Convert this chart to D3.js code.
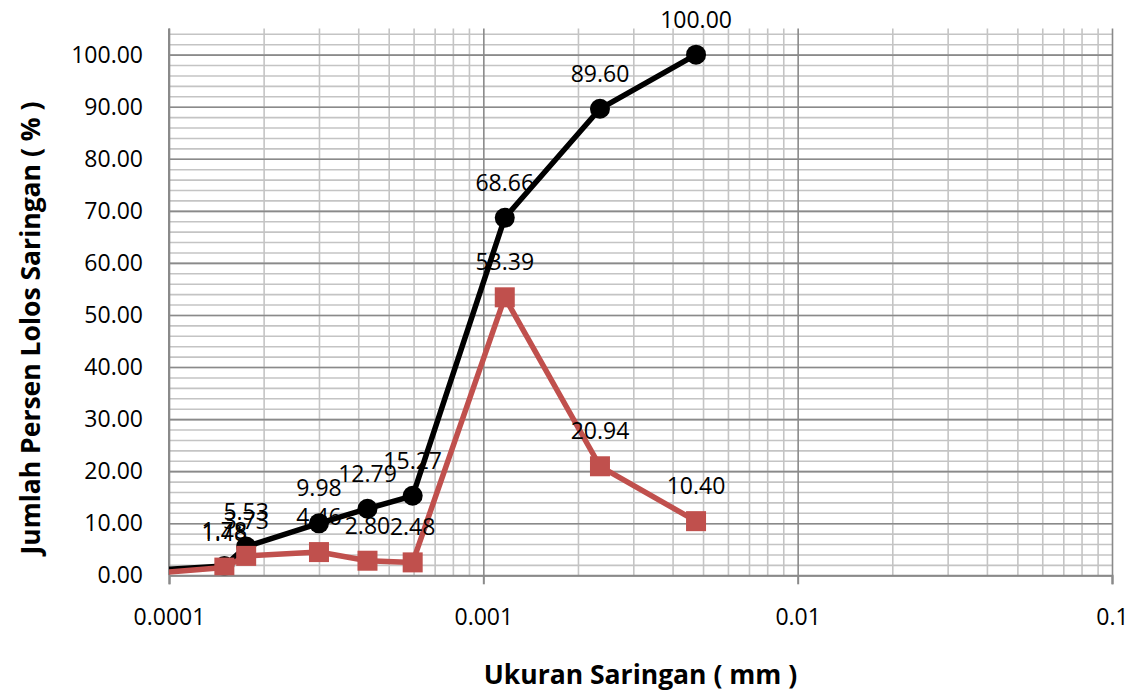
<!DOCTYPE html>
<html>
<head>
<meta charset="utf-8">
<script src="https://cdn.jsdelivr.net/npm/d3@7"></script>
<style>
  body { margin: 0; background: #ffffff; }
  svg { display: block; }
  text { font-family: "Open Sans", "Noto Sans", sans-serif; fill: #000; }
</style>
</head>
<body>
<svg id="chart" width="1141" height="691"></svg>
<script>
// Grain size (mm) and percentages for the hydrometer / sieve analysis
const sieveSizes      = [0.000075, 0.00015, 0.000176, 0.0003, 0.000428, 0.000596, 0.00117, 0.00235, 0.00475];
const percentPassing  = [0.75, 1.78, 5.53, 9.98, 12.79, 15.27, 68.66, 89.60, 100.00];
const percentRetained = [0.00, 1.48, 3.73, 4.46, 2.80, 2.48, 53.39, 20.94, 10.40];

const xTickValues = [0.0001, 0.001, 0.01, 0.1];
const xTickLabels = ["0.0001", "0.001", "0.01", "0.1"];
const yTickValues = [0, 10, 20, 30, 40, 50, 60, 70, 80, 90, 100];
const yMinorValues = d3.range(0, 105, 2);
const xMinorValues = [];
[-4, -3, -2].forEach(e => { for (let m = 2; m <= 9; m++) xMinorValues.push(+(m * Math.pow(10, e)).toPrecision(3)); });

const xTitle = "Ukuran Saringan ( mm )";
const yTitle = "Jumlah Persen Lolos Saringan ( % )";

const plot = { left: 169, right: 1112, top: 28.6, bottom: 575.3 };

const svg = d3.select("#chart");

const x = d3.scaleLog().domain([0.0001, 0.1]).range([plot.left, plot.right]);
const y = d3.scaleLinear().domain([0, 105]).range([plot.bottom, plot.top]);

const minorColor = "#c4c4c4";
const majorColor = "#8a8a8a";

// gridlines: minor first, then major on top
function grid(axis, color, transform) {
  const g = svg.append("g").attr("transform", transform).call(axis);
  g.select(".domain").remove();
  g.selectAll("line").attr("stroke", color).attr("stroke-width", 1.6);
  g.selectAll("text").remove();
  return g;
}
grid(d3.axisLeft(y).tickValues(yMinorValues).tickSize(-(plot.right - plot.left)).tickFormat(""),
     minorColor, `translate(${plot.left},0)`);
grid(d3.axisBottom(x).tickValues(xMinorValues).tickSize(-(plot.bottom - plot.top)).tickFormat(""),
     minorColor, `translate(0,${plot.bottom})`);
grid(d3.axisLeft(y).tickValues(yTickValues).tickSize(-(plot.right - plot.left)).tickFormat(""),
     majorColor, `translate(${plot.left},0)`);
grid(d3.axisBottom(x).tickValues(xTickValues).tickSize(-(plot.bottom - plot.top)).tickFormat(""),
     majorColor, `translate(0,${plot.bottom})`);

// x axis with tick marks and labels
const xAxis = svg.append("g")
  .attr("transform", `translate(0,${plot.bottom})`)
  .call(d3.axisBottom(x).tickValues(xTickValues).tickSize(9)
        .tickFormat((d, i) => xTickLabels[i]));
xAxis.select(".domain").attr("stroke", majorColor).attr("stroke-width", 2);
xAxis.selectAll("line").attr("stroke", majorColor).attr("stroke-width", 2);
xAxis.selectAll("text")
  .attr("y", 617 - plot.bottom).attr("dy", "0.35em")
  .style("font-size", "23px").style("font-family", "'Open Sans', sans-serif").attr("fill", "#000");

// y axis labels
const yAxis = svg.append("g")
  .attr("transform", `translate(${plot.left},0)`)
  .call(d3.axisLeft(y).tickValues(yTickValues).tickSize(0).tickPadding(26).tickFormat(d3.format(".2f")));
yAxis.select(".domain").attr("stroke", majorColor).attr("stroke-width", 2)
  .attr("d", `M0,${plot.top}V${plot.bottom}`);
yAxis.selectAll("text")
  .style("font-size", "23px").style("font-family", "'Open Sans', sans-serif").attr("fill", "#000");

// series
svg.append("defs").append("clipPath").attr("id", "plot-clip")
  .append("rect")
  .attr("x", plot.left).attr("y", plot.top - 20)
  .attr("width", plot.right - plot.left).attr("height", plot.bottom - plot.top + 20);

const passingData = sieveSizes.map((s, i) => ({ s, v: percentPassing[i] }));
const retainedData = sieveSizes.map((s, i) => ({ s, v: percentRetained[i] }));
const inside = d => d.s >= x.domain()[0] && d.s <= x.domain()[1];

const line = d3.line().x(d => x(d.s)).y(d => y(d.v));
const series = svg.append("g").attr("clip-path", "url(#plot-clip)");

const black = "#000000";
const red = "#c0504d";
const markerSize = 20;
const lineWidth = 5.5;

series.append("path").datum(passingData)
  .attr("d", line).attr("fill", "none").attr("stroke", black)
  .attr("stroke-width", lineWidth).attr("stroke-linejoin", "round");
series.selectAll("circle.passing").data(passingData.filter(inside)).join("circle")
  .attr("class", "passing")
  .attr("cx", d => x(d.s)).attr("cy", d => y(d.v)).attr("r", markerSize / 2)
  .attr("fill", black);

series.append("path").datum(retainedData)
  .attr("d", line).attr("fill", "none").attr("stroke", red)
  .attr("stroke-width", lineWidth).attr("stroke-linejoin", "round");
series.selectAll("rect.retained").data(retainedData.filter(inside)).join("rect")
  .attr("class", "retained")
  .attr("x", d => x(d.s) - markerSize / 2).attr("y", d => y(d.v) - markerSize / 2)
  .attr("width", markerSize).attr("height", markerSize)
  .attr("fill", red);

// value labels above every point
const labels = svg.append("g").style("font-size", "23px");
[passingData, retainedData].forEach(data => {
  labels.append("g").selectAll("text").data(data.filter(inside)).join("text")
    .attr("x", d => x(d.s)).attr("y", d => y(d.v) - 35)
    .attr("text-anchor", "middle").attr("dy", "0.35em")
    .text(d => d3.format(".2f")(d.v));
});

// axis titles
svg.append("text")
  .attr("x", (plot.left + plot.right) / 2).attr("y", 675)
  .attr("text-anchor", "middle").attr("dy", "0.35em")
  .style("font-size", "26.5px").style("font-weight", "bold")
  .text(xTitle);

svg.append("text")
  .attr("transform", "translate(31,328) rotate(-90)")
  .attr("text-anchor", "middle").attr("dy", "0.35em")
  .style("font-size", "26.5px").style("font-weight", "bold")
  .text(yTitle);
</script>
</body>
</html>
